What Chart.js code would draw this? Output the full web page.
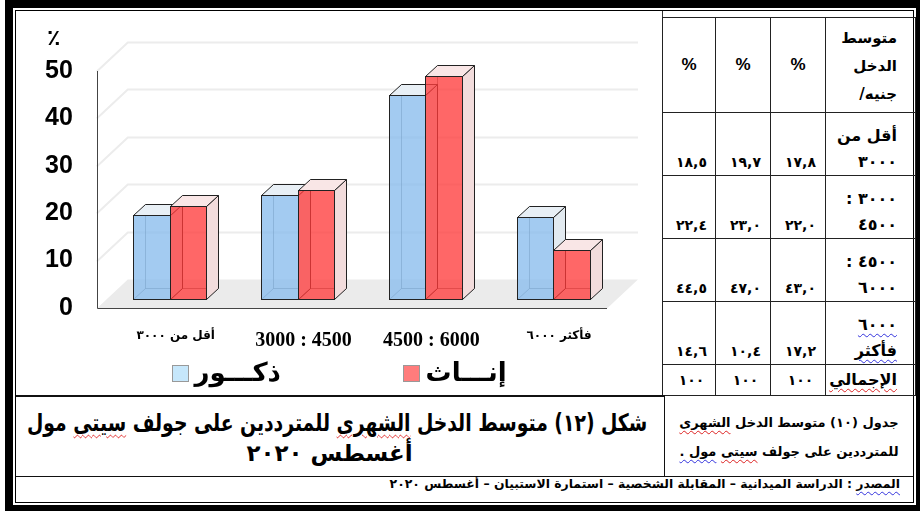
<!DOCTYPE html>
<html lang="ar">
<head>
<meta charset="utf-8">
<script src="https://cdn.jsdelivr.net/npm/chart.js@4.4.0/dist/chart.umd.min.js"></script>
<style>
  html, body { margin: 0; padding: 0; background: #fff; }
  body { width: 920px; height: 511px; position: relative; overflow: hidden; font-family: "DejaVu Sans", sans-serif; }
  .abs { position: absolute; box-sizing: border-box; }
  #frame { left: 5px; top: 0; width: 915px; height: 511px; background: #000; }
  #inner { left: 12px; top: 7px; width: 905px; height: 499px; background: #fff; border: 4px double #000; }
  #panel { left: 16px; top: 11px; width: 647px; height: 384px; border-right: 1px solid #333; }
  #chart { left: 12px; top: 14px; }
  #tbl { left: 662px; top: 17px; width: 253px; border-collapse: collapse; table-layout: fixed; }
  #tbl td { box-sizing: border-box; border: 1px solid #222; padding: 0; font-weight: bold; color: #000; overflow: hidden; }
  #tbl td.num { text-align: center; vertical-align: bottom; font-size: 14px; line-height: 26px; letter-spacing: 5px; padding-left: 5px; }
  #tbl td.lab { text-align: right; vertical-align: bottom; font-size: 16px; line-height: 26px; padding-right: 18px; white-space: nowrap; }
  #tbl td.pct { text-align: center; vertical-align: middle; font: bold 17px "Liberation Sans", Arial, sans-serif; }
  #tbl td.head { vertical-align: top; text-align: right; padding: 6px 18px 0 0; font-size: 15px; line-height: 28px; white-space: nowrap; }
  #tbl tr.tot td { vertical-align: middle; line-height: 20px; }
  .wr { text-decoration: underline wavy #d22; text-decoration-thickness: 1px; text-underline-offset: 3px; }
  .wb { text-decoration: underline wavy #33d; text-decoration-thickness: 1px; text-underline-offset: 3px; }
  #capL { left: 16px; top: 395px; width: 649px; height: 81px; border-top: 2px solid #111; border-right: 1px solid #111; padding: 11px 17px 0 10px; }
  #capL div { font-weight: bold; line-height: 30px; white-space: nowrap; }
  #capL .l1 { font-size: 24px; text-align: right; }
  #capL .fit { display: inline-block; transform-origin: right center; }
  #capL .l2 { font-size: 23px; text-align: center; padding-right: 14px; }
  #capR { left: 665px; top: 397px; width: 248px; height: 79px; text-align: center; font-size: 13px; font-weight: bold; line-height: 29px; padding-top: 11px; }
  #src { left: 16px; top: 476px; width: 897px; height: 21px; border-top: 1px solid #111; text-align: right; padding-right: 13px; font-size: 12.4px; font-weight: bold; line-height: 14px; }
</style>
</head>
<body>
<div id="frame" class="abs"></div>
<div id="inner" class="abs"></div>
<div id="panel" class="abs"></div>
<canvas id="chart" class="abs" width="628" height="380"></canvas>
<table id="tbl" class="abs" dir="rtl">
  <colgroup><col style="width:90px"><col style="width:55px"><col style="width:55px"><col style="width:53px"></colgroup>
  <tbody></tbody>
</table>
<div id="capL" class="abs" dir="rtl">
  <div class="l1"><span class="fit">شكل (١٢) متوسط الدخل <span class="wr">الشهرى</span> للمترددين على جولف <span class="wr">سيتى</span> مول</span></div>
  <div class="l2">أغسطس ٢٠٢٠</div>
</div>
<div id="capR" class="abs" dir="rtl">جدول (١٠) متوسط الدخل <span class="wr">الشهرى</span><br>للمترددين على جولف <span class="wr">سيتى</span> <span class="wb">مول .</span></div>
<div id="src" class="abs" dir="rtl"><span class="wb">المصدر</span> : الدراسة الميدانية – المقابلة الشخصية – استمارة الاستبيان – أغسطس ٢٠٢٠</div>

<script>
// ---- data ----
const categories = ['أقل من ٣٠٠٠', '3000 : 4500', '4500 : 6000', '\u2066٦٠٠٠\u2069 \u2066فأكثر\u2069'];
const males = [17.8, 22.0, 43.0, 17.2];
const females = [19.7, 23.0, 47.0, 10.4];
const totals = [18.5, 22.4, 44.5, 14.6];
const seriesNames = ['ذكـــور', 'إنـــاث'];
const yTicks = [0, 10, 20, 30, 40, 50];
const tableRows = [['أقل من', '٣٠٠٠'], ['٣٠٠٠ :', '٤٥٠٠'], ['٤٥٠٠ :', '٦٠٠٠'], ['٦٠٠٠', 'فأكثر']];
const totalLabel = 'الإجمالي';

// squeeze the long caption line into its box
const fit = document.querySelector('#capL .fit');
fit.style.transform = 'scaleX(' + Math.min(1, 620 / fit.offsetWidth) + ')';

// arabic-indic digits, comma as decimal mark
function arNum(v, dec) {
  return v.toFixed(dec).replace('.', ',').replace(/[0-9]/g, d => '٠١٢٣٤٥٦٧٨٩'[d]);
}

// table: label | males | females | total  (right to left)
const tbody = document.querySelector('#tbl tbody');
let html = '<tr style="height:95px"><td class="head">متوسط<br>الدخل<br>جنيه/</td>' +
  '<td class="pct">%</td><td class="pct">%</td><td class="pct">%</td></tr>';
tableRows.forEach((lab, i) => {
  const l1 = i === 3 ? `<span class="wb">${lab[0]}</span>` : lab[0];
  const l2 = i === 3 ? `<span class="wb">${lab[1]}</span>` : lab[1];
  html += `<tr style="height:63px"><td class="lab">${l1}<br>${l2}</td>` +
    `<td class="num">${arNum(males[i], 1)}</td><td class="num">${arNum(females[i], 1)}</td><td class="num">${arNum(totals[i], 1)}</td></tr>`;
});
const sum = arr => Math.round(arr.reduce((a, b) => a + b, 0));
html += `<tr class="tot" style="height:31px"><td class="lab"><span class="wr">${totalLabel}</span></td>` +
  `<td class="num">${arNum(sum(males), 0)}</td><td class="num">${arNum(sum(females), 0)}</td><td class="num">${arNum(sum(totals), 0)}</td></tr>`;
tbody.innerHTML = html;

// ---- 3d look ----
const DX = 12, DY = -11;       // bar depth
const FX = 31, FY = -29;       // floor depth

function poly(ctx, pts, fill) {
  ctx.beginPath();
  pts.forEach((p, i) => i ? ctx.lineTo(p[0], p[1]) : ctx.moveTo(p[0], p[1]));
  ctx.closePath();
  if (fill) { ctx.fillStyle = fill; ctx.fill(); }
  ctx.stroke();
}

function drawBox(ctx, el, ds) {
  const l = Math.round(el.x - el.width / 2) + 0.5;
  const r = Math.round(el.x + el.width / 2) + 0.5;
  const t = Math.round(el.y) + 0.5;
  const b = Math.round(el.base) + 0.5;
  ctx.lineWidth = 1;
  // back edges, seen through the front face
  ctx.strokeStyle = 'rgba(0,0,0,0.45)';
  ctx.beginPath();
  ctx.moveTo(l + DX, t + DY); ctx.lineTo(l + DX, b + DY); ctx.lineTo(r + DX, b + DY);
  ctx.moveTo(l, b); ctx.lineTo(l + DX, b + DY);
  ctx.stroke();
  ctx.strokeStyle = '#222';
  poly(ctx, [[r, t], [r + DX, t + DY], [r + DX, b + DY], [r, b]], ds.sideColor);
  poly(ctx, [[l, t], [l + DX, t + DY], [r + DX, t + DY], [r, t]], ds.topColor);
  ctx.fillStyle = ds.backgroundColor;
  ctx.fillRect(l, t, r - l, b - t);
  ctx.strokeRect(l, t, r - l, b - t);
}

const box3d = {
  id: 'box3d',
  beforeDatasetsDraw(chart) {
    const { ctx, chartArea: a, scales: { y } } = chart;
    const y0 = y.getPixelForValue(0);
    const fl = a.left - 9, fr = a.right - 10, fy = Math.round(y0 + 9) + 0.5;
    ctx.save();
    // floor
    ctx.fillStyle = '#ebebeb';
    ctx.beginPath();
    ctx.moveTo(fl, fy); ctx.lineTo(fr, fy); ctx.lineTo(fr + FX, fy + FY); ctx.lineTo(fl + FX, fy + FY);
    ctx.closePath(); ctx.fill();
    // back wall and side wall grid
    ctx.strokeStyle = '#ececec'; ctx.lineWidth = 2;
    yTicks.forEach(v => {
      if (v === 0) return;
      const p = Math.round(y.getPixelForValue(v) + 9) + 0.5;
      ctx.beginPath();
      ctx.moveTo(fl, p); ctx.lineTo(fl + FX, p + FY); ctx.lineTo(fr + FX, p + FY);
      ctx.stroke();
    });
    // front axis + floor edge
    ctx.strokeStyle = '#444'; ctx.lineWidth = 1;
    ctx.beginPath();
    ctx.moveTo(Math.round(fl) + 0.5, Math.round(y.getPixelForValue(yTicks[yTicks.length - 1]) + 9));
    ctx.lineTo(Math.round(fl) + 0.5, fy); ctx.lineTo(fr, fy);
    ctx.stroke();
    // boxes, category by category
    const metas = chart.data.datasets.map((d, i) => chart.getDatasetMeta(i));
    for (let i = 0; i < chart.data.labels.length; i++) {
      metas.forEach((m, di) => drawBox(ctx, m.data[i], chart.data.datasets[di]));
    }
    // percent sign over the y labels
    ctx.fillStyle = '#000';
    ctx.font = 'bold 22px "DejaVu Sans"';
    ctx.textAlign = 'center'; ctx.textBaseline = 'middle';
    ctx.fillText('٪', a.left - 52, y.getPixelForValue(50) - 23);
    ctx.restore();
    return false;
  },
  afterDraw(chart) {
    const { ctx, chartArea: a } = chart;
    const ly = a.bottom + 75;
    const starts = [a.left + 66, a.left + 297];
    ctx.save();
    chart.data.datasets.forEach((ds, i) => {
      const x = Math.round(starts[i]) + 0.5;
      ctx.fillStyle = ds.legendColor;
      ctx.fillRect(x, Math.round(ly) - 8.5, 16, 16);
      ctx.strokeStyle = '#999'; ctx.lineWidth = 1;
      ctx.strokeRect(x, Math.round(ly) - 8.5, 16, 16);
      ctx.fillStyle = '#000';
      ctx.font = 'bold 26px "DejaVu Sans"';
      ctx.textAlign = 'left'; ctx.textBaseline = 'middle';
      ctx.fillText(ds.label, x + 22, ly);
    });
    ctx.restore();
  }
};

new Chart(document.getElementById('chart'), {
  type: 'bar',
  data: {
    labels: categories,
    datasets: [
      { label: seriesNames[0], data: males, backgroundColor: 'rgba(140,190,238,0.8)',
        sideColor: '#e2eaf0', topColor: '#e8eff5', legendColor: '#c6e7fb' },
      { label: seriesNames[1], data: females, backgroundColor: 'rgba(255,60,60,0.78)',
        sideColor: '#f2dcdc', topColor: '#f9e6e6', legendColor: '#ff7c7c' }
    ]
  },
  options: {
    responsive: false,
    animation: false,
    layout: { padding: { left: 0, right: 23, top: 39, bottom: 11 } },
    datasets: { bar: { barPercentage: 1, categoryPercentage: 0.572 } },
    plugins: { legend: { display: false }, tooltip: { enabled: false } },
    scales: {
      x: {
        grid: { display: false, drawTicks: false },
        border: { display: false },
        ticks: {
          padding: 30, labelOffset: 6, color: '#000', maxRotation: 0,
          font: c => (c.index === 1 || c.index === 2)
            ? { family: '"Liberation Serif", serif', size: 20, weight: 'bold' }
            : { family: '"DejaVu Sans", sans-serif', size: 12, weight: 'bold' }
        }
      },
      y: {
        min: 0, max: 50,
        grid: { display: false, drawTicks: false },
        border: { display: false },
        afterBuildTicks: axis => { axis.ticks = yTicks.map(v => ({ value: v })); },
        ticks: {
          padding: 33, labelOffset: 9, color: '#000',
          font: { family: '"Liberation Sans", Arial, sans-serif', size: 25, weight: 'bold' }
        }
      }
    }
  },
  plugins: [box3d]
});
</script>
</body>
</html>
